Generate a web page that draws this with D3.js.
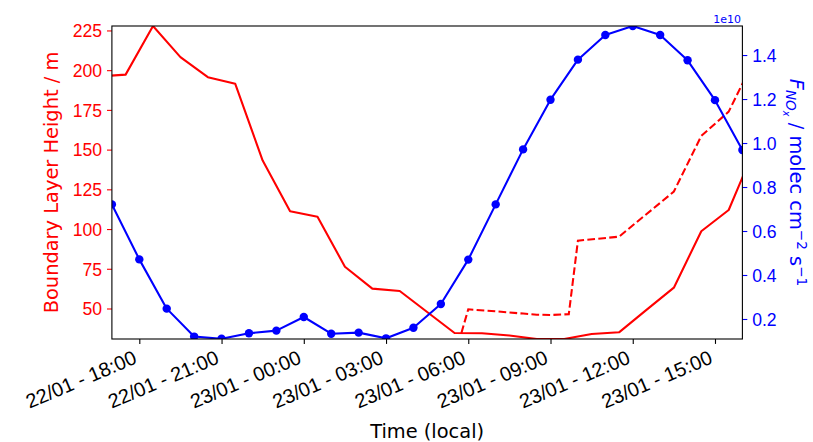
<!DOCTYPE html>
<html>
<head>
<meta charset="utf-8">
<script src="https://cdn.jsdelivr.net/npm/d3@7"></script>
<style>
  html, body { margin: 0; padding: 0; background: #fff; }
  svg { display: block; font-family: "DejaVu Sans", sans-serif; }
</style>
</head>
<body>
<svg id="chart" width="813" height="442"></svg>
<script>
// ---------------- data ----------------
// NOx flux (right axis, molec cm^-2 s^-1), hourly
const fluxTimes = ["22/01 17:00","22/01 18:00","22/01 19:00","22/01 20:00","22/01 21:00","22/01 22:00",
  "22/01 23:00","23/01 00:00","23/01 01:00","23/01 02:00","23/01 03:00","23/01 04:00","23/01 05:00",
  "23/01 06:00","23/01 07:00","23/01 08:00","23/01 09:00","23/01 10:00","23/01 11:00","23/01 12:00",
  "23/01 13:00","23/01 14:00","23/01 15:00","23/01 16:00"];
const fluxValues = [0.721e10,0.471e10,0.247e10,0.120e10,0.110e10,0.135e10,0.147e10,0.209e10,0.133e10,
  0.138e10,0.112e10,0.160e10,0.268e10,0.470e10,0.721e10,0.971e10,1.197e10,1.379e10,1.491e10,1.532e10,
  1.491e10,1.376e10,1.195e10,0.968e10];

// Boundary layer height (left axis, m), solid line
const blhTimes = ["22/01 16:30","22/01 17:30","22/01 18:30","22/01 19:30","22/01 20:30","22/01 21:30",
  "22/01 22:30","22/01 23:30","23/01 00:30","23/01 01:30","23/01 02:30","23/01 03:30","23/01 04:30",
  "23/01 05:30","23/01 06:30","23/01 07:30","23/01 08:30","23/01 09:30","23/01 10:30","23/01 11:30",
  "23/01 12:30","23/01 13:30","23/01 14:30","23/01 15:30","23/01 16:30"];
const blhValues = [196.0,197.2,227.8,208.2,195.6,191.4,143.1,111.2,107.8,76.3,62.5,61.0,47.8,
  34.6,34.4,33.0,30.8,30.8,34.0,35.0,49.1,63.1,98.6,112.0,152.9];

// Boundary layer height, alternative (dashed line)
const blhAltTimes = ["23/01 05:45","23/01 06:00","23/01 07:00","23/01 08:00","23/01 08:30","23/01 09:00",
  "23/01 09:40","23/01 10:00","23/01 11:30","23/01 13:30","23/01 14:30","23/01 15:30","23/01 16:30"];
const blhAltValues = [34.6,49.5,48.2,46.8,46.1,45.9,46.4,92.7,95.2,123.6,158.6,173.9,209.0];

// Axis ticks
const xTickTimes = ["22/01 18:00","22/01 21:00","23/01 00:00","23/01 03:00","23/01 06:00",
  "23/01 09:00","23/01 12:00","23/01 15:00"];
const xTickLabels = ["22/01 - 18:00","22/01 - 21:00","23/01 - 00:00","23/01 - 03:00","23/01 - 06:00",
  "23/01 - 09:00","23/01 - 12:00","23/01 - 15:00"];
const leftTicks = [50,75,100,125,150,175,200,225];
const rightTicks = [0.2e10,0.4e10,0.6e10,0.8e10,1.0e10,1.2e10,1.4e10];
const rightTickLabels = ["0.2","0.4","0.6","0.8","1.0","1.2","1.4"];

// ---------------- layout ----------------
const parse = d3.timeParse("%d/%m %H:%M");
const L = 111.9, R = 742.4, T = 26, B = 339;
const RED = "#ff0000", BLUE = "#0000ff";
const svg = d3.select("#chart");

const x = d3.scaleTime().domain([parse("22/01 17:00"), parse("23/01 16:00")]).range([L, R]);
const yL = d3.scaleLinear().domain([30.8, 227.8]).range([B, T]);
const yR = d3.scaleLinear().domain([0.109e10, 1.532e10]).range([B, T]);

svg.append("defs").append("clipPath").attr("id", "clip")
  .append("rect").attr("x", L).attr("y", T).attr("width", R - L).attr("height", B - T);

const plot = svg.append("g").attr("clip-path", "url(#clip)");

const lineL = d3.line().x(d => x(d.t)).y(d => yL(d.v));
const lineR = d3.line().x(d => x(d.t)).y(d => yR(d.v));

const blh = blhTimes.map((t, i) => ({ t: parse(t), v: blhValues[i] }));
const blhAlt = blhAltTimes.map((t, i) => ({ t: parse(t), v: blhAltValues[i] }));
const flux = fluxTimes.map((t, i) => ({ t: parse(t), v: fluxValues[i] }));

plot.append("path").datum(blh).attr("d", lineL)
  .attr("fill", "none").attr("stroke", RED).attr("stroke-width", 2.08).attr("stroke-linejoin", "round");
plot.append("path").datum(blhAlt).attr("d", lineL)
  .attr("fill", "none").attr("stroke", RED).attr("stroke-width", 2.08)
  .attr("stroke-dasharray", "7.7,3.3");
plot.append("path").datum(flux).attr("d", lineR)
  .attr("fill", "none").attr("stroke", BLUE).attr("stroke-width", 2.08).attr("stroke-linejoin", "round");
plot.selectAll("circle.f").data(flux).enter().append("circle")
  .attr("cx", d => x(d.t)).attr("cy", d => yR(d.v)).attr("r", 4.2).attr("fill", BLUE);

// ---------------- axes ----------------
const fs = 17.6, xfs = 20, rot = 23;
// bottom
const xAxis = d3.axisBottom(x).tickValues(xTickTimes.map(parse))
  .tickFormat((d, i) => xTickLabels[i]).tickSize(4.9).tickPadding(0);
const gx = svg.append("g").attr("transform", `translate(0,${B})`).call(xAxis);
gx.select(".domain").remove();
gx.selectAll(".tick line").attr("stroke", "#000").attr("stroke-width", 1.1);
gx.selectAll(".tick text")
  .attr("font-size", xfs).attr("fill", "#000")
  .attr("text-anchor", "end").attr("dy", null).attr("y", 0)
  .attr("transform", function () {
    const a = 0.76 * xfs, d = 0.23 * xfs, r = rot * Math.PI / 180;
    return `translate(${-d * Math.sin(r)},${9.7 + a * Math.cos(r)}) rotate(${-rot})`;
  });

// left
const yAxisL = d3.axisLeft(yL).tickValues(leftTicks).tickSize(4.9).tickPadding(4.9);
const gyl = svg.append("g").attr("transform", `translate(${L},0)`).call(yAxisL);
gyl.select(".domain").remove();
gyl.selectAll(".tick line").attr("stroke", RED).attr("stroke-width", 1.1);
gyl.selectAll(".tick text").attr("font-size", fs).attr("fill", RED).attr("dy", "0.36em");

// right
const yAxisR = d3.axisRight(yR).tickValues(rightTicks).tickFormat((d, i) => rightTickLabels[i])
  .tickSize(4.9).tickPadding(4.9);
const gyr = svg.append("g").attr("transform", `translate(${R},0)`).call(yAxisR);
gyr.select(".domain").remove();
gyr.selectAll(".tick line").attr("stroke", BLUE).attr("stroke-width", 1.1);
gyr.selectAll(".tick text").attr("font-size", fs).attr("fill", BLUE).attr("dy", "0.36em");

// frame
svg.append("rect").attr("x", L).attr("y", T).attr("width", R - L).attr("height", B - T)
  .attr("fill", "none").attr("stroke", "#000").attr("stroke-width", 1.1);

// offset text
svg.append("text").attr("x", 741).attr("y", 22.5).attr("text-anchor", "end")
  .attr("font-size", 11).attr("fill", BLUE).text("1e10");

// axis labels
const lfs = 19.4;
svg.append("text").attr("transform", `translate(58,${(T + B) / 2}) rotate(-90)`)
  .attr("text-anchor", "middle").attr("font-size", lfs).attr("fill", RED)
  .text("Boundary Layer Height / m");

svg.append("text").attr("x", (L + R) / 2).attr("y", 438).attr("text-anchor", "middle")
  .attr("font-size", lfs).attr("fill", "#000").text("Time (local)");

const rl = svg.append("text").attr("transform", `translate(790,${(T + B) / 2}) rotate(90)`)
  .attr("text-anchor", "middle").attr("font-size", lfs).attr("fill", BLUE);
rl.append("tspan").attr("font-style", "italic").text("F");
rl.append("tspan").attr("font-style", "italic").attr("font-size", lfs * 0.7).attr("dy", 0.22 * lfs).text("NO");
rl.append("tspan").attr("font-style", "italic").attr("font-size", lfs * 0.5).attr("dy", 0.12 * lfs).text("x");
rl.append("tspan").attr("dy", -0.34 * lfs).text(" / molec cm");
rl.append("tspan").attr("font-size", lfs * 0.7).attr("dy", -0.35 * lfs).text("\u22122");
rl.append("tspan").attr("dy", 0.35 * lfs).text(" s");
rl.append("tspan").attr("font-size", lfs * 0.7).attr("dy", -0.35 * lfs).text("\u22121");
</script>
</body>
</html>
